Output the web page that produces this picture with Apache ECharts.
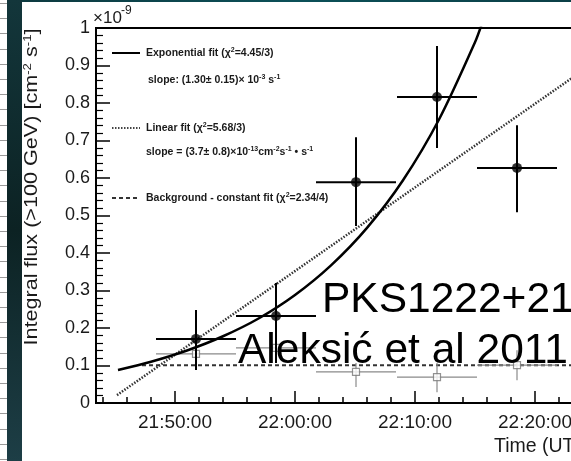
<!DOCTYPE html>
<html><head><meta charset="utf-8">
<script src="https://cdn.jsdelivr.net/npm/echarts@6/dist/echarts.min.js"></script>
<style>html,body{margin:0;padding:0;background:#fff}#c{width:571px;height:461px}</style>
</head><body><div id="c"></div>
<script>
// ---- data (flux in units of 1e-9 cm^-2 s^-1, time in UT) ----
const binTimes   = ['21:51:45','21:58:25','22:05:05','22:11:50','22:18:30'];
const binHalfSec = 200;
const flux       = [0.171, 0.232, 0.589, 0.816, 0.627];
const fluxLow    = [0.088, 0.107, 0.472, 0.680, 0.509];
const fluxHigh   = [0.248, 0.320, 0.709, 0.952, 0.741];
const bgFlux     = [0.131, 0.147, 0.083, 0.069, 0.101];
const bgLow      = [0.105, 0.120, 0.043, 0.029, 0.061];
const bgHigh     = [0.157, 0.175, 0.107, 0.107, 0.141];

const expFitTimes = ['21:45:15','21:48:00','21:51:00','21:54:00','21:57:00','22:00:00','22:03:00','22:06:00','22:09:00','22:12:00','22:15:00','22:15:40'];
const expFitFlux  = [0.088, 0.110, 0.140, 0.178, 0.226, 0.288, 0.367, 0.467, 0.594, 0.756, 0.962, 1.02];
const linFitTimes = ['21:45:10','22:24:40'];
const linFitFlux  = [0.021, 0.902];
const bgFitTimes  = ['21:47:15','22:24:40'];
const bgFitFlux   = [0.101, 0.101];

const xTickLabels = ['21:50:00','22:00:00','22:10:00','22:20:00'];
const yTickLabels = ['0','0.1','0.2','0.3','0.4','0.5','0.6','0.7','0.8','0.9','1'];
const xRange = ['21:43:25','22:24:40'];
const minorStepSec = 120;

// ---- helpers ----
const toSec = t => { const p = t.split(':').map(Number); return p[0]*3600 + p[1]*60 + p[2]; };
const pad = n => String(n).padStart(2,'0');
const fmt = s => pad(Math.floor(s/3600)) + ':' + pad(Math.floor(s%3600/60)) + ':' + pad(s%60);
const xMin = toSec(xRange[0]), xMax = toSec(xRange[1]);
const majorVals = xTickLabels.map(toSec);
const minorVals = [];
for (let v = Math.ceil(xMin/minorStepSec)*minorStepSec; v <= xMax; v += minorStepSec) minorVals.push(v);

const sigData = binTimes.map((t,i) => { const x = toSec(t); return [x, flux[i], x-binHalfSec, x+binHalfSec, fluxLow[i], fluxHigh[i]]; });
const bgData  = binTimes.map((t,i) => { const x = toSec(t); return [x, bgFlux[i], x-binHalfSec, x+binHalfSec, bgLow[i], bgHigh[i]]; });
const pairs = (ts, vs) => ts.map((t,i) => [toSec(t), vs[i]]);

function errBars(color, width) {
  return function (params, api) {
    const x = api.value(0), y = api.value(1);
    const l = api.coord([api.value(2), y]), r = api.coord([api.value(3), y]);
    const b = api.coord([x, api.value(4)]), t = api.coord([x, api.value(5)]);
    const st = { stroke: color, lineWidth: width };
    return { type: 'group', children: [
      { type: 'line', shape: { x1: l[0], y1: l[1], x2: r[0], y2: r[1] }, style: st },
      { type: 'line', shape: { x1: b[0], y1: b[1], x2: t[0], y2: t[1] }, style: st }
    ]};
  };
}

const FONT = '"Liberation Sans", Arial, sans-serif';
const legFont = 'bold 10.5px ' + FONT;
const supRich = {
  a: { font: legFont, fill: '#1a1a1a', lineHeight: 13 },
  s: { font: 'bold 7px ' + FONT, fill: '#1a1a1a', verticalAlign: 'top', lineHeight: 13 }
};
function legText(x, y, txt) {
  return { type: 'text', x: x, y: y, z: 50, style: { text: txt, rich: supRich, font: legFont, fill: '#1a1a1a', align: 'left', textAlign: 'left', verticalAlign: 'middle', textVerticalAlign: 'middle' } };
}
function legLine(y, dash, color) {
  return { type: 'line', z: 50, shape: { x1: 112, y1: y, x2: 140, y2: y }, style: { stroke: color, lineWidth: 2, lineDash: dash } };
}

const stripes = [];
for (let y = 3; y < 461; y += 15.2) stripes.push({ type: 'line', shape: { x1: 0, y1: Math.round(y)+0.5, x2: 7, y2: Math.round(y)+0.5 }, style: { stroke: '#9a9a9a', lineWidth: 1 } });

const chart = echarts.init(document.getElementById('c'), null, { renderer: 'canvas' });
chart.setOption({
  animation: false,
  backgroundColor: '#fff',
  grid: { left: 96, top: 28, right: -20, bottom: 58, show: true, borderColor: '#000', borderWidth: 2, backgroundColor: 'transparent', containLabel: false, outerBoundsMode: 'none' },
  xAxis: [{
    type: 'value', min: xMin, max: xMax,
    axisLine: { show: true, lineStyle: { color: '#000', width: 2 } },
    axisTick: { show: true, inside: true, length: 12, customValues: majorVals, lineStyle: { color: '#000', width: 1.5 } },
    axisLabel: { show: true, customValues: majorVals, formatter: v => xTickLabels[majorVals.indexOf(v)] || fmt(v), fontFamily: FONT, fontSize: 19, color: '#1a1a1a', margin: 10 },
    splitLine: { show: false }
  }, {
    type: 'value', min: xMin, max: xMax, position: 'bottom',
    axisLine: { show: false },
    axisTick: { show: true, inside: true, length: 6, customValues: minorVals, lineStyle: { color: '#000', width: 1.5 } },
    axisLabel: { show: false },
    splitLine: { show: false }
  }],
  yAxis: {
    type: 'value', min: 0, max: 1, interval: 0.1,
    axisLine: { show: true, lineStyle: { color: '#000', width: 2 } },
    axisTick: { show: true, inside: true, length: 14, lineStyle: { color: '#000', width: 1.5 } },
    minorTick: { show: true, splitNumber: 5, length: 7, lineStyle: { color: '#000', width: 1.2 } },
    axisLabel: { formatter: (v) => yTickLabels[Math.round(v*10)], fontFamily: FONT, fontSize: 18, color: '#1a1a1a', margin: 6 },
    splitLine: { show: false }, minorSplitLine: { show: false }
  },
  series: [
    { type: 'line', name: 'bgfit', data: pairs(bgFitTimes, bgFitFlux), showSymbol: false, clip: true, z: 3,
      lineStyle: { color: '#333', width: 2, type: [4, 3] } },
    { type: 'line', name: 'linfit', data: pairs(linFitTimes, linFitFlux), showSymbol: false, clip: true, z: 3,
      lineStyle: { color: '#333', width: 2.5, type: [1.5, 1.5] } },
    { type: 'custom', name: 'bgerr', data: bgData, renderItem: errBars('#8a8a8a', 1.2), encode: { x: [0,2,3], y: [1,4,5] }, clip: true, z: 4 },
    { type: 'scatter', name: 'bg', data: bgData.map(d => [d[0], d[1]]), symbol: 'rect', symbolSize: 7, z: 5,
      itemStyle: { color: '#fff', borderColor: '#777', borderWidth: 1.2 } },
    { type: 'line', name: 'expfit', data: pairs(expFitTimes, expFitFlux), smooth: 0.3, showSymbol: false, clip: true, z: 6,
      lineStyle: { color: '#000', width: 2.5 } },
    { type: 'custom', name: 'sigerr', data: sigData, renderItem: errBars('#000', 2), encode: { x: [0,2,3], y: [1,4,5] }, clip: true, z: 7 },
    { type: 'scatter', name: 'sig', data: sigData.map(d => [d[0], d[1]]), symbol: 'circle', symbolSize: 10, z: 8,
      itemStyle: { color: '#000' } }
  ],
  graphic: [
    { type: 'rect', shape: { x: 0, y: 0, width: 7, height: 461 }, style: { fill: '#fff' }, z: 0 },
    ...stripes,
    { type: 'rect', shape: { x: 7, y: 0, width: 15, height: 461 }, z: 1,
      style: { fill: new echarts.graphic.LinearGradient(0, 0, 0, 1, [ { offset: 0, color: '#13363b' }, { offset: 0.5, color: '#0c2223' }, { offset: 1, color: '#1d3e46' } ]) } },
    { type: 'rect', shape: { x: 22, y: 0, width: 549, height: 2 }, z: 1,
      style: { fill: new echarts.graphic.LinearGradient(0, 0, 1, 0, [ { offset: 0, color: '#0d3a40' }, { offset: 0.5, color: '#0b5058' }, { offset: 1, color: '#0b3f46' } ]) } },
    // multiplier
    { type: 'text', x: 93, y: 27, z: 50, style: { text: '×10', font: '17px ' + FONT, fill: '#1a1a1a', align: 'left', textAlign: 'left', verticalAlign: 'bottom', textVerticalAlign: 'bottom' } },
    { type: 'text', x: 121, y: 17, z: 50, style: { text: '-9', font: '12px ' + FONT, fill: '#1a1a1a', align: 'left', textAlign: 'left', verticalAlign: 'bottom', textVerticalAlign: 'bottom' } },
    // y axis title
    { type: 'text', x: 32, y: 187, rotation: Math.PI / 2, scaleX: 1.2, z: 50,
      style: { text: '{a|Integral flux (>100 GeV) [cm}{s|-2}{a| s}{s|-1}{a|]}', align: 'center', textAlign: 'center', verticalAlign: 'middle', textVerticalAlign: 'middle',
        rich: { a: { font: '18px ' + FONT, fill: '#1a1a1a', lineHeight: 20 }, s: { font: '11px ' + FONT, fill: '#1a1a1a', verticalAlign: 'top', lineHeight: 20 } } } },
    // x axis title
    { type: 'text', x: 494, y: 447, z: 50, style: { text: 'Time (UTC)', font: '19.5px ' + FONT, fill: '#1a1a1a', align: 'left', textAlign: 'left', verticalAlign: 'middle', textVerticalAlign: 'middle' } },
    // legend
    legLine(53, null, '#000'),
    legText(146, 53, '{a|Exponential fit (χ}{s|2}{a|=4.45/3)}'),
    legText(148, 80, '{a|slope: (1.30± 0.15)× 10}{s|-3}{a| s}{s|-1}'),
    legLine(128, [1.5, 1.5], '#444'),
    legText(146, 128, '{a|Linear fit (χ}{s|2}{a|=5.68/3)}'),
    legText(146, 152, '{a|slope = (3.7± 0.8)×10}{s|-13}{a|cm}{s|-2}{a|s}{s|-1}{a| • s}{s|-1}'),
    legLine(198, [4, 3], '#333'),
    legText(146, 198, '{a|Background - constant fit (χ}{s|2}{a|=2.34/4)}'),
    // annotation
    { type: 'text', x: 322, y: 300, z: 100, style: { text: 'PKS1222+21', font: '42.5px ' + FONT, fill: '#000', align: 'left', textAlign: 'left', verticalAlign: 'middle', textVerticalAlign: 'middle' } },
    { type: 'text', x: 238, y: 351, z: 100, style: { text: 'Aleksić et al 2011', font: '42.5px ' + FONT, fill: '#000', align: 'left', textAlign: 'left', verticalAlign: 'middle', textVerticalAlign: 'middle' } }
  ]
});
</script>
</body></html>
